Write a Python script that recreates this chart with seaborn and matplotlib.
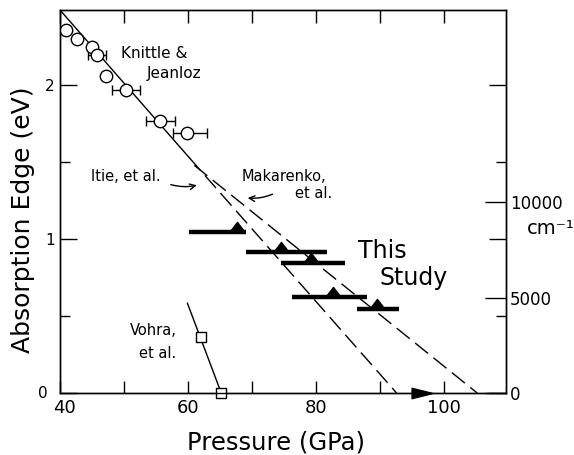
import numpy as np
import matplotlib
matplotlib.use("Agg")
import matplotlib.pyplot as plt
from matplotlib.path import Path
from matplotlib.transforms import ScaledTranslation
import seaborn as sns

nan = np.nan

# Knittle & Jeanloz (open circles, pressure error bars)
kj_p = [40.9, 42.7, 45.0, 45.8, 47.2, 50.3, 55.7, 59.9]
kj_e = [2.36, 2.30, 2.25, 2.20, 2.06, 1.97, 1.77, 1.69]
kj_err_lo = [nan, nan, nan, 1.4, nan, 2.2, 2.2, 2.3]
kj_err_hi = [nan, nan, nan, 1.4, nan, 2.2, 2.2, 3.0]

# This study (filled triangles with pressure ranges)
ts_p = [67.6, 74.5, 79.3, 82.6, 89.5]
ts_e = [1.045, 0.916, 0.844, 0.623, 0.545]
ts_p_min = [60.1, 69.0, 74.5, 76.2, 86.4]
ts_p_max = [69.1, 81.8, 84.6, 87.9, 93.0]

# Vohra et al. (open squares) and their trend line
vo_p = [62.1, 65.2]
vo_e = [0.364, 0.0]
vo_line_p = [59.9, 65.2]
vo_line_e = [0.585, 0.0]

# Itie et al. (solid then dashed) and Makarenko et al. (dashed)
itie_solid_p = [40.0, 60.2]
itie_solid_e = [2.49, 1.53]
itie_dash_p = [60.2, 92.6]
itie_dash_e = [1.53, 0.0]
mak_p = [61.0, 105.2]
mak_e = [1.48, 0.0]

# transition marker on the pressure axis
tr_p = [96.6]
tr_e = [0.0]

x_ticks = [40, 50, 60, 70, 80, 90, 100]
x_labels = ["40", "", "60", "", "80", "", "100"]
y_major = [0, 1, 2]
y_minor = [0.5, 1.5]
cm_ticks = [0, 5000, 10000]
cm_labels = ["0", "5000", "10000"]
EV_TO_CM = 8065.54

sns.set_style("ticks")
plt.rcParams["font.family"] = ["DejaVu Sans"]
plt.rcParams["text.color"] = "black"
plt.rcParams["axes.labelcolor"] = "black"
plt.rcParams["xtick.color"] = "black"
plt.rcParams["ytick.color"] = "black"

fig = plt.figure(figsize=(5.74, 4.55), dpi=100)
ax = fig.add_axes([60 / 574, 62 / 455, 446 / 574, 383 / 455])
ax2 = ax.twinx()

XMAX, YMAX = 109.7, 2.49

# lines
sns.lineplot(x=itie_solid_p, y=itie_solid_e, ax=ax, color="black", lw=1.0, sort=False)
sns.lineplot(x=itie_dash_p, y=itie_dash_e, ax=ax, color="black", lw=1.0,
             linestyle=(0, (12, 5)), sort=False)
sns.lineplot(x=mak_p, y=mak_e, ax=ax, color="black", lw=1.0,
             linestyle=(0, (12, 5)), sort=False)
sns.lineplot(x=vo_line_p, y=vo_line_e, ax=ax, color="black", lw=1.0, sort=False)

# Knittle error bars + circles
kj_lo = np.array(kj_err_lo)
kj_hi = np.array(kj_err_hi)
ax.errorbar(kj_p, kj_e, xerr=[kj_lo, kj_hi], fmt="none", ecolor="black",
            elinewidth=1.0, capsize=3.5, capthick=1.0, zorder=3)
sns.scatterplot(x=kj_p, y=kj_e, ax=ax, marker="o", s=80, facecolor="white",
                edgecolor="black", linewidth=1.0, zorder=4)

# Vohra squares
sns.scatterplot(x=vo_p, y=vo_e, ax=ax, marker="s", s=60, facecolor="white",
                edgecolor="black", linewidth=1.0, zorder=4, clip_on=False)

# This study bars and triangles
ts_lo = np.array(ts_p) - np.array(ts_p_min)
ts_hi = np.array(ts_p_max) - np.array(ts_p)
ax.errorbar(ts_p, ts_e, xerr=[ts_lo, ts_hi], fmt="none", ecolor="black",
            elinewidth=3.2, capsize=0, zorder=3)
tri_up = Path([(-1, 0), (1, 0), (0, 1.3), (-1, 0)],
              [Path.MOVETO, Path.LINETO, Path.LINETO, Path.CLOSEPOLY])
ax.plot(ts_p, ts_e, linestyle="none", marker=tri_up, markersize=14.5,
        color="black", zorder=5)

# transition arrowhead on axis
tri_right = Path([(-1, -0.5), (1, 0), (-1, 0.5), (-1, -0.5)],
                 [Path.MOVETO, Path.LINETO, Path.LINETO, Path.CLOSEPOLY])
ax.plot(tr_p, tr_e, linestyle="none", marker=tri_right, markersize=15,
        color="black", zorder=6, clip_on=False)

# axes limits and ticks
ax.set_xlim(40, XMAX)
ax.set_ylim(0, YMAX)
ax2.set_ylim(0, YMAX * EV_TO_CM)

ax.set_xticks(x_ticks)
ax.set_xticklabels(x_labels)
ax.set_yticks(y_major)
ax.set_yticklabels([str(v) for v in y_major])
ax.set_yticks(y_minor, minor=True)

ax.tick_params(axis="x", which="both", direction="in", top=True, bottom=True,
               length=9, width=1.0, labelsize=13, pad=4, colors="black")
ax.tick_params(axis="y", which="major", direction="in", left=True, right=True,
               length=12, width=1.0, labelsize=11, pad=4, labelright=False)
ax.tick_params(axis="y", which="minor", direction="in", left=True, right=True,
               length=7, width=1.0)

ax2.set_yticks(cm_ticks)
ax2.set_yticklabels(cm_labels)
ax2.tick_params(axis="y", which="major", direction="in", right=True, left=False,
                length=15, width=1.0, labelsize=12, pad=3)

# nudge the corner labels apart as in the original
xl0 = ax.get_xticklabels()[0]
xl0.set_transform(xl0.get_transform() + ScaledTranslation(4 / 100, 0, fig.dpi_scale_trans))
yl0 = ax.get_yticklabels()[0]
yl0.set_transform(yl0.get_transform() + ScaledTranslation(-7 / 100, 1 / 100, fig.dpi_scale_trans))

for a in (ax, ax2):
    for s in a.spines.values():
        s.set_linewidth(1.0)
        s.set_color("black")

ax.set_xlabel("Pressure (GPa)", fontsize=17.5)
ax.set_ylabel("Absorption Edge (eV)", fontsize=18)
ax.xaxis.set_label_coords(0.484, -0.097)
ax.yaxis.set_label_coords(-0.056, 0.452)

# annotations
ax.text(49.6, 2.18, "Knittle &", fontsize=11, va="baseline", ha="left")
ax.text(53.5, 2.05, "Jeanloz", fontsize=11, va="baseline", ha="left")
ax.text(50.3, 1.38, "Itie, et al.", fontsize=10.5, va="baseline", ha="center")
ax.text(68.4, 1.38, "Makarenko,", fontsize=10.5, va="baseline", ha="left")
ax.text(82.5, 1.27, "et al.", fontsize=10.5, va="baseline", ha="right")
ax.text(86.5, 0.88, "This", fontsize=17, va="baseline", ha="left")
ax.text(90.0, 0.70, "Study", fontsize=17, va="baseline", ha="left")
ax.text(58.2, 0.38, "Vohra,", fontsize=10.5, va="baseline", ha="right")
ax.text(58.2, 0.23, "et al.", fontsize=10.5, va="baseline", ha="right")
ax.text(1.047, 0.43, "cm\u207b\u00b9", transform=ax.transAxes, fontsize=14,
        va="center", ha="left")

ax.annotate("", xy=(61.8, 1.355), xytext=(56.9, 1.36),
            arrowprops=dict(arrowstyle="->", lw=1.0, color="black",
                            connectionstyle="arc3,rad=0.15"))
ax.annotate("", xy=(68.9, 1.27), xytext=(73.6, 1.30),
            arrowprops=dict(arrowstyle="->", lw=1.0, color="black",
                            connectionstyle="arc3,rad=-0.15"))

fig.savefig("out.png", dpi=100, facecolor="white")
